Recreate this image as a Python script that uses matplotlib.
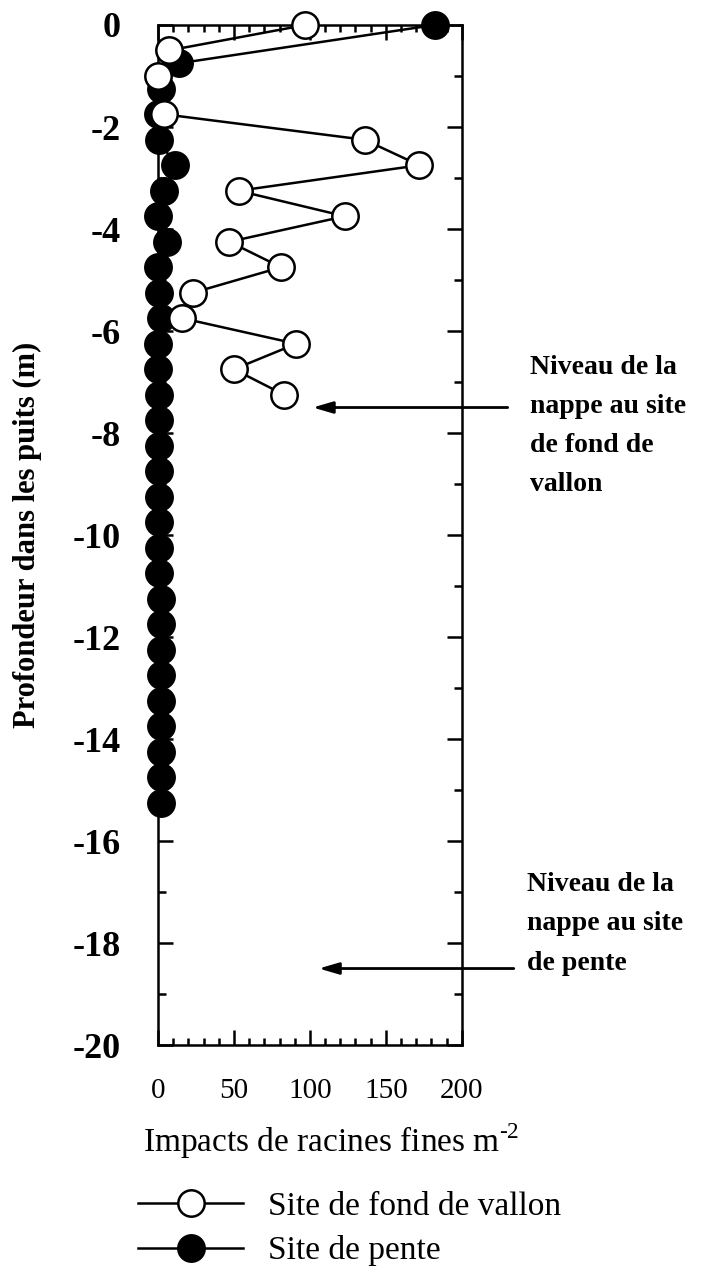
import matplotlib
matplotlib.use("Agg")
import matplotlib.pyplot as plt
from matplotlib.ticker import MultipleLocator

# profondeur (m) et impacts de racines fines (m-2)
prof_vallon = [0, -0.5, -1, -1.75, -2.25, -2.75, -3.25, -3.75, -4.25, -4.75,
               -5.25, -5.75, -6.25, -6.75, -7.25]
imp_vallon = [97, 7, 0, 4, 136, 172, 53, 123, 47, 81, 23, 16, 91, 50, 83]

prof_pente = [0, -0.75, -1.25, -1.75, -2.25, -2.75, -3.25, -3.75, -4.25, -4.75,
              -5.25, -5.75, -6.25, -6.75, -7.25, -7.75, -8.25, -8.75, -9.25, -9.75,
              -10.25, -10.75, -11.25, -11.75, -12.25, -12.75, -13.25, -13.75,
              -14.25, -14.75, -15.25]
imp_pente = [182, 14, 2, 0, 1, 11, 4, 0, 6, 0, 1, 2, 0, 0, 1, 1, 1, 1, 1, 1,
             1, 1, 2, 2, 2, 2, 2, 2, 2, 2, 2]

nappe_vallon = -7.5
nappe_pente = -18.5

plt.rcParams['font.family'] = ['Liberation Serif', 'DejaVu Serif']
plt.rcParams['axes.unicode_minus'] = False
plt.rcParams['mathtext.fontset'] = 'custom'
plt.rcParams['mathtext.rm'] = 'Liberation Serif'

fig = plt.figure(figsize=(7.1, 12.69), dpi=100)
ax = fig.add_axes([0.2225, 0.1765, 0.428, 0.8038])

ax.plot(imp_pente, prof_pente, '-', color='black', lw=1.8, marker='o', ms=19,
        mfc='black', mec='black', mew=1.8, clip_on=False, zorder=3,
        label='Site de pente')
ax.plot(imp_vallon, prof_vallon, '-', color='black', lw=1.8, marker='o', ms=19,
        mfc='white', mec='black', mew=1.8, clip_on=False, zorder=4,
        label='Site de fond de vallon')

ax.set_xlim(0, 200)
ax.set_ylim(-20, 0)
ax.xaxis.set_major_locator(MultipleLocator(50))
ax.xaxis.set_minor_locator(MultipleLocator(10))
ax.yaxis.set_major_locator(MultipleLocator(2))
ax.yaxis.set_minor_locator(MultipleLocator(1))
ax.tick_params(which='both', direction='in', top=True, right=True, width=1.8)
ax.tick_params(axis='x', which='major', length=11, pad=24, labelsize=21)
ax.tick_params(axis='x', which='minor', length=5)
ax.tick_params(axis='y', which='major', length=11, pad=27, labelsize=26)
ax.tick_params(axis='y', which='minor', length=6)
for lab in ax.get_yticklabels():
    lab.set_fontweight('bold')
for sp in ax.spines.values():
    sp.set_linewidth(1.8)

ax.set_ylabel('Profondeur dans les puits (m)', fontsize=22, fontweight='bold', labelpad=22)
ax.set_xlabel(r'Impacts de racines fines m$^{\text{-2}}$', fontsize=24, labelpad=12,
              x=0.57)

# fleches niveaux de nappe
arrow = dict(arrowstyle='-|>,head_length=1.2,head_width=0.35', color='black', lw=2)
ax.annotate('', xy=(100, nappe_vallon), xytext=(232, nappe_vallon),
            arrowprops=arrow, annotation_clip=False)
ax.annotate('', xy=(104, nappe_pente), xytext=(236, nappe_pente),
            arrowprops=arrow, annotation_clip=False)

fig.text(0.746, 0.7205, 'Niveau de la\nnappe au site\nde fond de\nvallon',
         fontweight='bold', fontsize=20, va='top', ha='left', linespacing=1.75)
fig.text(0.742, 0.3128, 'Niveau de la\nnappe au site\nde pente',
         fontweight='bold', fontsize=20, va='top', ha='left', linespacing=1.75)

h, l = ax.get_legend_handles_labels()
fig.legend(h[::-1], l[::-1], loc='center left', bbox_to_anchor=(0.195, 0.0315),
           frameon=False, fontsize=24, handlelength=3.15, handletextpad=0.75,
           labelspacing=0.4, borderpad=0, borderaxespad=0)

fig.savefig('out.png', dpi=100)
